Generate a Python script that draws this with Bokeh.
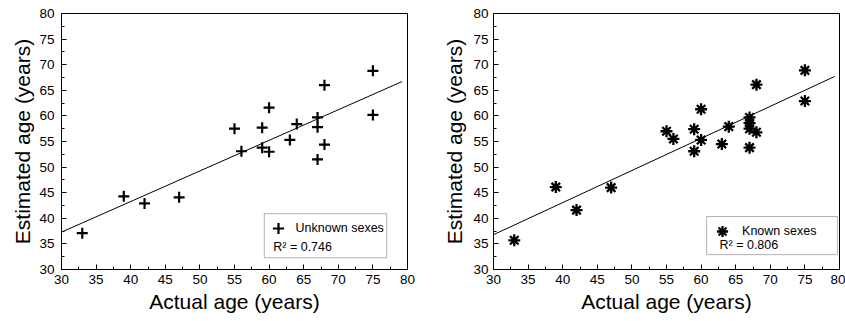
from bokeh.plotting import figure
from bokeh.models import FixedTicker, Range1d, BoxAnnotation, Label, Legend, LegendItem
from bokeh.layouts import row
from bokeh.embed import file_html
from bokeh.resources import INLINE

# ---- data ----
axis_ticks = [30, 35, 40, 45, 50, 55, 60, 65, 70, 75, 80]
minor_ticks = [32.5, 37.5, 42.5, 47.5, 52.5, 57.5, 62.5, 67.5, 72.5, 77.5]

unknown_actual = [33, 39, 42, 47, 55, 56, 59, 59, 60, 60, 63, 64, 67, 67, 67, 68, 68, 75, 75]
unknown_est = [37.1, 44.3, 42.9, 44.1, 57.5, 53.1, 57.7, 53.8, 53.0, 61.6, 55.3, 58.4,
               59.7, 57.8, 51.5, 66.0, 54.4, 68.8, 60.2]
unknown_fit_x = [30, 79.2]
unknown_fit_y = [37.3, 66.7]
unknown_label = "Unknown sexes"
unknown_r2 = "R\u00b2 = 0.746"

known_actual = [33, 39, 42, 47, 55, 56, 59, 59, 60, 60, 63, 64, 67, 67, 67, 67, 68, 68, 75, 75]
known_est = [35.7, 46.1, 41.6, 46.0, 57.0, 55.5, 57.4, 53.1, 61.3, 55.3, 54.5, 57.9,
             59.7, 58.6, 57.5, 53.8, 66.1, 56.8, 68.9, 62.9]
known_fit_x = [30, 79.3]
known_fit_y = [36.8, 67.7]
known_label = "Known sexes"
known_r2 = "R\u00b2 = 0.806"

FONT = "Liberation Sans"
H = 321
BT = 13
BB = 52
GLYPH = 28


def panel(xs, ys, fx, fy, marker, msize, mlw, label, r2, width, bl, br,
          box, glyph_c, r2_pos, standoff, tick_standoff, axl_standoff):
    p = figure(width=width, height=H, output_backend="svg", toolbar_location=None,
               x_range=Range1d(30, 80), y_range=Range1d(30, 80),
               min_border_left=bl, min_border_right=br, min_border_top=BT, min_border_bottom=BB)
    p.background_fill_color = "white"
    p.border_fill_color = "white"
    p.outline_line_color = "black"
    p.outline_line_width = 1
    p.outline_line_alpha = 1
    p.xgrid.visible = False
    p.ygrid.visible = False
    for ax in (p.xaxis[0], p.yaxis[0]):
        ax.ticker = FixedTicker(ticks=axis_ticks, minor_ticks=minor_ticks)
        ax.major_tick_in = 5
        ax.major_tick_out = 0
        ax.minor_tick_in = 3
        ax.minor_tick_out = 0
        ax.axis_line_color = "black"
        ax.major_tick_line_color = "black"
        ax.minor_tick_line_color = "black"
        ax.major_label_text_font = FONT
        ax.major_label_text_font_size = "13.5px"
        ax.major_label_text_color = "black"
        ax.axis_label_text_font = FONT
        ax.axis_label_text_font_size = "21px"
        ax.axis_label_text_font_style = "normal"
        ax.axis_label_text_color = "black"
    p.xaxis[0].axis_label = "Actual age (years)"
    p.yaxis[0].axis_label = "Estimated age (years)"
    p.xaxis[0].major_label_standoff = 5
    p.xaxis[0].axis_label_standoff = 3
    p.yaxis[0].major_label_standoff = tick_standoff
    p.yaxis[0].axis_label_standoff = axl_standoff

    p.line(fx, fy, line_color="black", line_width=1)

    # legend frame
    p.add_layout(BoxAnnotation(left=box[0], right=box[1], bottom=box[2], top=box[3],
                               fill_color="white", fill_alpha=1,
                               line_color="black", line_width=1, level="annotation"))

    r = p.scatter(xs, ys, marker=marker, size=msize, line_color="black",
                  fill_color="black", line_width=mlw)

    fw = width - bl - br
    fh = H - BT - BB
    gx = (glyph_c[0] - 30) / 50 * fw - GLYPH / 2
    gy = (glyph_c[1] - 30) / 50 * fh - GLYPH / 2
    leg = Legend(items=[LegendItem(label=label, renderers=[r])], location=(gx, gy),
                 border_line_alpha=0, background_fill_alpha=0, padding=0, margin=0,
                 spacing=0, glyph_width=GLYPH, glyph_height=GLYPH, label_standoff=standoff,
                 label_text_font=FONT, label_text_font_size="12.5px",
                 label_text_color="black", label_height=GLYPH)
    p.add_layout(leg)

    p.add_layout(Label(x=r2_pos[0], y=r2_pos[1], text=r2, text_font=FONT,
                       text_font_size="12.5px", text_color="black",
                       text_baseline="middle", text_align="left"))
    return p


left = panel(unknown_actual, unknown_est, unknown_fit_x, unknown_fit_y,
             "cross", 11, 2.2, unknown_label, unknown_r2,
             width=430, bl=61, br=23,
             box=(59.3, 77.0, 32.3, 40.9), glyph_c=(61.3, 38.07), r2_pos=(60.6, 34.36),
             standoff=4, tick_standoff=7, axl_standoff=2)

right = panel(known_actual, known_est, known_fit_x, known_fit_y,
              "asterisk", 12, 2.3, known_label, known_r2,
              width=415, bl=63, br=6,
              box=(60.8, 79.7, 32.9, 40.35), glyph_c=(63.1, 37.5), r2_pos=(62.66, 34.7),
              standoff=6, tick_standoff=5, axl_standoff=4)

layout = row(left, right)
open("out.html", "w").write(file_html(layout, INLINE))
